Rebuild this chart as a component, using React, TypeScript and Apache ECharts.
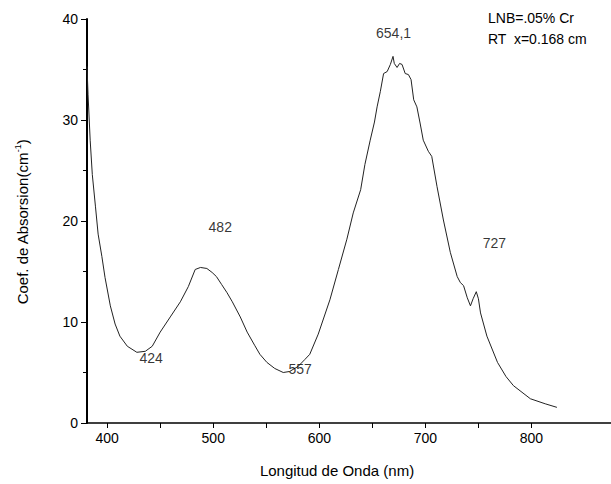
import React, { useEffect, useRef } from "react";
import * as echarts from "echarts";

// Wavelength (nm) and absorption coefficient (cm^-1)
const wavelength = [
  381, 382, 384, 386, 389, 391.5, 395, 398, 403, 407.5, 412, 419, 428, 436, 442.5, 450,
  459.5, 469, 476.5, 483, 488, 494, 499, 503, 508, 513, 518, 525.5, 532, 539, 544, 550.6,
  558, 566, 572, 580, 586.5, 591, 599, 610, 618, 626, 632, 639, 643, 648, 652, 654.5,
  657.5, 660.6, 664, 667, 669.5, 670.7, 673.3, 675.7, 678, 681, 684, 686.5, 689, 692, 695,
  698, 702.8, 706, 711, 717, 723.5, 730, 733, 736, 739.5, 742.5, 745, 748, 750, 752, 758,
  768, 776, 783, 799, 813, 824,
];
const absorption = [
  35.3, 32.5, 28.0, 24.6, 21.4, 18.7, 16.5, 14.4, 11.6, 9.8, 8.6, 7.6, 7.0, 7.1, 7.6, 9.0,
  10.5, 12.0, 13.5, 15.2, 15.4, 15.3, 14.9, 14.5, 13.7, 12.9, 12.0, 10.5, 9.0, 7.7, 6.8, 6.0,
  5.4, 5.0, 5.1, 5.6, 6.3, 6.8, 8.8, 12.2, 15.2, 18.2, 20.8, 23.1, 25.6, 28.0, 29.8, 31.3,
  32.8, 34.6, 34.8, 35.5, 36.3, 35.6, 35.2, 35.6, 35.5, 34.6, 34.5, 34.0, 32.0, 31.3, 29.7,
  28.0, 26.9, 26.4, 23.4, 20.1, 16.9, 14.5, 13.9, 13.6, 12.4, 11.6, 12.3, 13.0, 12.3, 10.9, 8.6,
  6.0, 4.6, 3.7, 2.4, 1.9, 1.55,
];

// Peak / valley annotations (text, x, y in data units)
const annotationText = ["654,1", "482", "727", "424", "557"];
const annotationX = [670, 506.6, 765, 441.5, 582];
const annotationY = [38.6, 19.4, 17.8, 6.4, 5.3];

const xTickValues = [400, 450, 500, 550, 600, 650, 700, 750, 800];
const xLabelValues = [400, 500, 600, 700, 800];

const infoLines = ["LNB=.05% Cr", "RT  x=0.168 cm"];

const FONT = "'Liberation Sans', Arial, Helvetica, sans-serif";

export default function App() {
  const ref = useRef<HTMLDivElement>(null);

  useEffect(() => {
    if (!ref.current) return;
    const chart = echarts.init(ref.current, undefined, { renderer: "svg" });
    const lineData = wavelength.map((w, i) => [w, absorption[i]]);
    const annData = annotationText.map((t, i) => ({
      name: t,
      value: [annotationX[i], annotationY[i]],
    }));

    chart.setOption({
      animation: false,
      backgroundColor: "#ffffff",
      grid: { left: 87, right: 0, top: 19, bottom: 61, containLabel: false },
      xAxis: {
        type: "value",
        min: 381,
        max: 875,
        axisLine: { show: true, onZero: false, lineStyle: { color: "#000", width: 1.5 } },
        axisTick: {
          show: true,
          inside: false,
          length: 5,
          customValues: xTickValues,
          lineStyle: { color: "#000", width: 1 },
        },
        axisLabel: {
          customValues: xLabelValues,
          color: "#000",
          fontSize: 14,
          fontFamily: FONT,
          margin: 8,
        },
        splitLine: { show: false },
      },
      yAxis: {
        type: "value",
        min: 0,
        max: 40,
        interval: 10,
        axisLine: { show: true, lineStyle: { color: "#000", width: 2 } },
        axisTick: { show: true, length: 6, lineStyle: { color: "#000", width: 1 } },
        minorTick: { show: true, splitNumber: 2, length: 4, lineStyle: { color: "#000", width: 1 } },
        axisLabel: { color: "#000", fontSize: 14, fontFamily: FONT, margin: 9 },
        splitLine: { show: false },
        minorSplitLine: { show: false },
      },
      series: [
        {
          type: "line",
          data: lineData,
          showSymbol: false,
          symbol: "none",
          lineStyle: { color: "#222", width: 1 },
          z: 3,
        },
        {
          type: "scatter",
          data: annData,
          symbolSize: 0,
          silent: true,
          label: {
            show: true,
            position: "inside",
            formatter: "{b}",
            color: "#000",
            fontSize: 14,
            fontFamily: FONT,
          },
          z: 4,
        },
      ],
      graphic: [
        {
          type: "text",
          x: 22,
          y: 222,
          rotation: Math.PI / 2,
          style: {
            text: "{a|Coef. de Absorsion(cm}{s|-1}{a|)}",
            align: "center",
            verticalAlign: "middle",
            rich: {
              a: { fontSize: 15, fontFamily: FONT, fill: "#000" },
              s: { fontSize: 9, fontFamily: FONT, fill: "#000", verticalAlign: "top", padding: [0, 0, 8, 0] },
            },
          },
        },
        {
          type: "text",
          x: 337,
          y: 470,
          style: {
            text: "Longitud de Onda (nm)",
            align: "center",
            verticalAlign: "middle",
            fontSize: 15,
            fontFamily: FONT,
            fill: "#000",
          },
        },
        {
          type: "text",
          x: 488,
          y: 18,
          style: {
            text: infoLines[0],
            align: "left",
            verticalAlign: "middle",
            fontSize: 14,
            fontFamily: FONT,
            fill: "#000",
          },
        },
        {
          type: "text",
          x: 488,
          y: 39,
          style: {
            text: infoLines[1],
            align: "left",
            verticalAlign: "middle",
            fontSize: 14,
            fontFamily: FONT,
            fill: "#000",
          },
        },
      ],
    });
    return () => chart.dispose();
  }, []);

  return (
    <div
      ref={ref}
      style={{ position: "absolute", left: 0, top: 0, width: 611, height: 484, background: "#fff" }}
    />
  );
}
